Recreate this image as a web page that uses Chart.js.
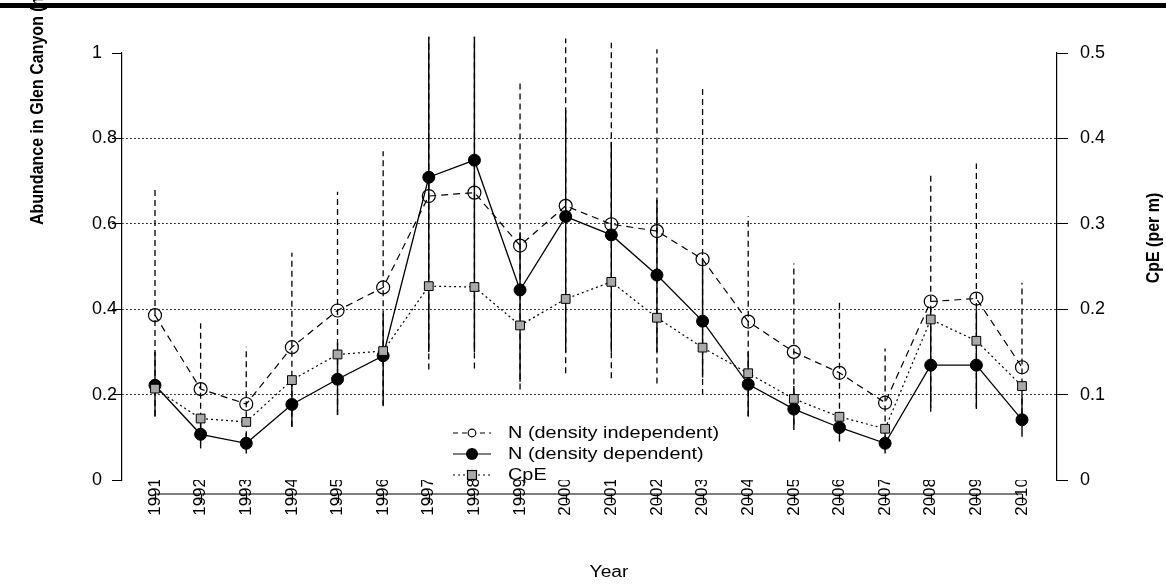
<!DOCTYPE html>
<html>
<head>
<meta charset="utf-8">
<script src="https://cdn.jsdelivr.net/npm/chart.js@4"></script>
<style>
  body { margin: 0; background: #fff; }
  canvas { display: block; background: #fff; }
</style>
</head>
<body>
<canvas id="c" width="1166" height="584"></canvas>
<script>
// values
const years = [1991, 1992, 1993, 1994, 1995, 1996, 1997, 1998, 1999, 2000,
	2001, 2002, 2003, 2004, 2005, 2006, 2007, 2008, 2009, 2010];

// N (density independent), left axis
const nIndep = [0.386, 0.213, 0.178, 0.311, 0.397, 0.451, 0.665, 0.673, 0.549, 0.642,
	0.599, 0.583, 0.517, 0.371, 0.300, 0.251, 0.181, 0.418, 0.425, 0.264];
const nIndepLo = [0.150, 0.120, 0.100, 0.125, 0.152, 0.173, 0.259, 0.261, 0.212, 0.250,
	0.238, 0.226, 0.199, 0.148, 0.130, 0.120, 0.090, 0.160, 0.166, 0.130];
const nIndepHi = [0.679, 0.367, 0.312, 0.532, 0.675, 0.770, 1.038, 1.038, 0.933, 1.034,
	1.024, 1.009, 0.920, 0.618, 0.507, 0.421, 0.308, 0.716, 0.741, 0.462];

// N (density dependent), left axis
const nDep = [0.222, 0.107, 0.086, 0.177, 0.236, 0.291, 0.709, 0.749, 0.445, 0.617,
	0.574, 0.480, 0.372, 0.224, 0.166, 0.123, 0.086, 0.269, 0.269, 0.141];
const nDepLo = [0.148, 0.074, 0.062, 0.125, 0.152, 0.175, 0.300, 0.300, 0.230, 0.300,
	0.300, 0.300, 0.240, 0.150, 0.117, 0.090, 0.062, 0.170, 0.170, 0.101];
const nDepHi = [0.300, 0.150, 0.110, 0.240, 0.320, 0.390, 1.038, 1.038, 0.580, 0.866,
	0.792, 0.656, 0.520, 0.300, 0.220, 0.160, 0.110, 0.400, 0.400, 0.200];

// CpE (per m), right axis
const cpe = [0.107, 0.072, 0.068, 0.117, 0.147, 0.151, 0.227, 0.226, 0.181, 0.212,
	0.232, 0.190, 0.155, 0.125, 0.095, 0.074, 0.060, 0.188, 0.163, 0.110];

const leftTicks = [0, 0.2, 0.4, 0.6, 0.8, 1];
const rightTicks = [0, 0.1, 0.2, 0.3, 0.4, 0.5];

const legendLabels = ["N (density independent)", "N (density dependent)", "CpE"];

Chart.defaults.font.family = "'Liberation Sans', Arial, sans-serif";
Chart.defaults.color = "#000";

function pts(vals) {
	return years.map((yr, i) => ({ x: yr, y: vals[i] }));
}

function fmt(v) {
	return String(Number(v.toFixed(1)));
}

// stretched text, the original figure is wider than tall
function sText(ctx, t, x, y, rot, sx) {
	ctx.save();
	ctx.translate(x, y);
	if (rot) {
		ctx.rotate(-Math.PI / 2);
		ctx.scale(1, sx);
	} else {
		ctx.scale(sx, 1);
	}
	ctx.fillText(t, 0, 0);
	ctx.restore();
}

const errorBars = {
	id: "errorBars",
	beforeDatasetsDraw(chart) {
		const { ctx, scales: { x, y } } = chart;
		ctx.save();
		ctx.strokeStyle = "#000";
		years.forEach((yr, i) => {
			const px = x.getPixelForValue(yr);
			ctx.setLineDash([]);
			ctx.lineWidth = 1.4;
			ctx.beginPath();
			ctx.moveTo(px, y.getPixelForValue(nDepLo[i]));
			ctx.lineTo(px, y.getPixelForValue(nDepHi[i]));
			ctx.stroke();

			ctx.setLineDash([6, 4]);
			ctx.lineWidth = 1.3;
			ctx.beginPath();
			ctx.moveTo(px, y.getPixelForValue(nIndepLo[i]));
			ctx.lineTo(px, y.getPixelForValue(nIndepHi[i]));
			ctx.stroke();
		});
		ctx.restore();
	}
};

const decor = {
	id: "decor",
	afterDraw(chart) {
		const { ctx, scales: { x } } = chart;
		ctx.save();
		ctx.fillStyle = "#000";
		// heavy rule at the very top
		ctx.fillRect(0, 3, 1166, 5);

		// R style x axis, under the plot region
		const x0 = x.getPixelForValue(years[0]);
		const x1 = x.getPixelForValue(years[years.length - 1]);
		ctx.strokeStyle = "#000";
		ctx.lineWidth = 1.2;
		ctx.beginPath();
		ctx.moveTo(x0, 494);
		ctx.lineTo(x1, 494);
		years.forEach(yr => {
			const px = Math.round(x.getPixelForValue(yr)) + 0.5;
			ctx.moveTo(px, 494);
			ctx.lineTo(px, 503);
		});
		ctx.stroke();

		// axis titles
		ctx.font = "bold 16px 'Liberation Sans', Arial, sans-serif";
		ctx.textBaseline = "middle";
		ctx.textAlign = "left";
		sText(ctx, "Abundance in Glen Canyon (millions)", 38, 225, true, 1.2);
		ctx.textAlign = "center";
		sText(ctx, "CpE (per m)", 1154, 238, true, 1.2);
		ctx.font = "16px 'Liberation Sans', Arial, sans-serif";
		sText(ctx, "Year", 609, 573, false, 1.2);

		// legend
		const rows = [433, 454, 475];
		ctx.lineWidth = 1.2;
		rows.forEach((ry, i) => {
			ctx.setLineDash(i === 0 ? [5, 4] : i === 1 ? [] : [2, 3]);
			ctx.beginPath();
			ctx.moveTo(453, ry);
			ctx.lineTo(491, ry);
			ctx.stroke();
		});
		ctx.setLineDash([]);
		ctx.fillStyle = "#fff";
		ctx.beginPath();
		ctx.arc(472, rows[0], 3.8, 0, Math.PI * 2);
		ctx.fill();
		ctx.stroke();
		ctx.fillStyle = "#000";
		ctx.beginPath();
		ctx.arc(472, rows[1], 6, 0, Math.PI * 2);
		ctx.fill();
		ctx.fillStyle = "#a9a9a9";
		ctx.fillRect(467.5, rows[2] - 4.5, 9, 9);
		ctx.strokeRect(467.5, rows[2] - 4.5, 9, 9);

		ctx.fillStyle = "#000";
		ctx.font = "17px 'Liberation Sans', Arial, sans-serif";
		ctx.textAlign = "left";
		ctx.textBaseline = "middle";
		legendLabels.forEach((t, i) => sText(ctx, t, 508, rows[i], false, 1.17));
		ctx.restore();
	}
};

new Chart(document.getElementById("c"), {
	type: "line",
	data: {
		datasets: [
			{
				label: legendLabels[2],
				data: pts(cpe),
				yAxisID: "y2",
				order: 0,
				borderColor: "#000",
				borderWidth: 1.2,
				borderDash: [2, 3],
				pointStyle: "rect",
				pointRadius: 6.2,
				pointBackgroundColor: "#a9a9a9",
				pointBorderColor: "#000",
				pointBorderWidth: 1
			},
			{
				label: legendLabels[0],
				data: pts(nIndep),
				yAxisID: "y",
				order: 1,
				borderColor: "#000",
				borderWidth: 1.2,
				borderDash: [7, 5],
				pointStyle: "circle",
				pointRadius: 6.5,
				pointBackgroundColor: "rgba(0,0,0,0)",
				pointBorderColor: "#000",
				pointBorderWidth: 1.2
			},
			{
				label: legendLabels[1],
				data: pts(nDep),
				yAxisID: "y",
				order: 2,
				borderColor: "#000",
				borderWidth: 1.3,
				pointStyle: "circle",
				pointRadius: 6,
				pointBackgroundColor: "#000",
				pointBorderColor: "#000",
				pointBorderWidth: 1
			}
		]
	},
	options: {
		responsive: false,
		animation: false,
		layout: { padding: { left: 92, top: 53, right: 0, bottom: 0 } },
		plugins: {
			legend: { display: false },
			tooltip: { enabled: false }
		},
		scales: {
			x: {
				type: "linear",
				min: 1990.277,
				max: 2010.767,
				afterBuildTicks: s => {
					s.ticks = years.map(v => ({ value: v }));
				},
				afterFit: s => {
					s.height = 104;
				},
				ticks: {
					autoSkip: false,
					minRotation: 90,
					maxRotation: 90,
					padding: -2,
					font: { size: 17 },
					callback: v => String(v)
				},
				grid: { display: false, drawTicks: false },
				border: { display: false }
			},
			y: {
				position: "left",
				min: 0,
				max: 1,
				afterBuildTicks: s => {
					s.ticks = leftTicks.map(v => ({ value: v }));
				},
				afterFit: s => {
					s.width = 30;
				},
				ticks: {
					crossAlign: "far",
					padding: 0,
					font: { size: 18 },
					callback: v => fmt(v)
				},
				grid: {
					color: c => (c.tick && (c.tick.value === 0 || c.tick.value === 1)) ? "rgba(0,0,0,0)" : "#000",
					lineWidth: 1,
					tickColor: "#000",
					tickLength: 10,
					tickBorderDash: []
				},
				border: { display: true, color: "#000", width: 1.2, dash: [1.5, 2.5] }
			},
			y2: {
				position: "right",
				min: 0,
				max: 0.5,
				afterBuildTicks: s => {
					s.ticks = rightTicks.map(v => ({ value: v }));
				},
				afterFit: s => {
					s.width = 109;
				},
				ticks: {
					padding: 12,
					font: { size: 18 },
					callback: v => fmt(v)
				},
				grid: {
					drawOnChartArea: false,
					tickColor: "#000",
					tickLength: 11
				},
				border: { display: true, color: "#000", width: 1.2 }
			}
		}
	},
	plugins: [errorBars, decor]
});
</script>
</body>
</html>
